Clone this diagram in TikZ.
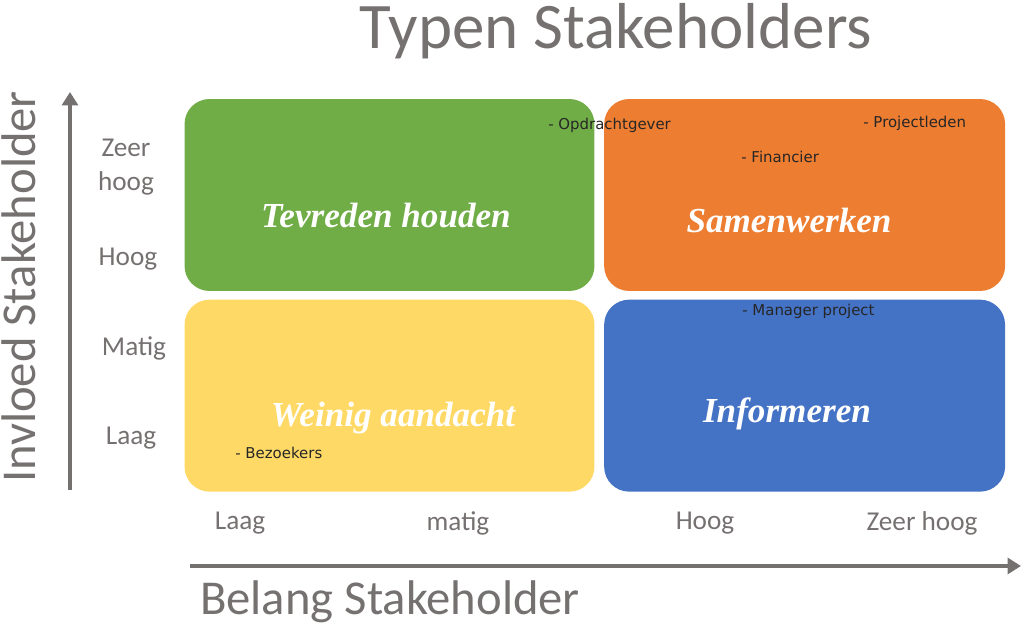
\documentclass[tikz,border=0pt]{standalone}
\usepackage{fontspec}
\setmainfont{Carlito}
\newfontfamily\notefont{DejaVu Sans}
\newfontfamily\quadfont{Liberation Serif}
\usetikzlibrary{arrows.meta,positioning}

\definecolor{axisgray}{HTML}{767171}
\definecolor{qgreen}{HTML}{70AD47}
\definecolor{qorange}{HTML}{ED7D31}
\definecolor{qyellow}{HTML}{FFD966}
\definecolor{qblue}{HTML}{4472C4}

\begin{document}
\begin{tikzpicture}[x=0.02cm, y=-0.02cm,
  quad/.style={rounded corners=0.5cm, minimum width=8.2cm, minimum height=3.84cm, inner sep=0pt},
  quadtitle/.style={text=white, font=\quadfont\bfseries\itshape\fontsize{20}{23}\selectfont},
  member/.style={anchor=west, inner sep=0pt, text=black!85, font=\notefont\fontsize{8.5}{10}\selectfont},
  tick/.style={text=axisgray, align=center, font=\fontsize{15.5}{19.5}\selectfont},
  axistitle/.style={text=axisgray, anchor=base, font=\fontsize{27.7}{32}\selectfont},
  axis/.style={line width=0.08cm, axisgray, -{Triangle[length=0.27cm, width=0.32cm]}}
]
\useasboundingbox (0,0) rectangle (1021,624);

% the four quadrants
\node[quad, fill=qgreen] (keep) at (389.5,195) {};
\node[quad, fill=qorange, minimum width=8.02cm, right=0.18cm of keep] (work) {};
\node[quad, fill=qyellow, below=0.16cm of keep] (low) {};
\node[quad, fill=qblue, minimum width=8.02cm, right=0.18cm of low] (inform) {};

\node[quadtitle] (keeptxt) at (386,216) {Tevreden houden};
\node[quadtitle] (worktxt) at (789,220) {Samenwerken};
\node[quadtitle] (lowtxt) at (393,418) {Weinig aandacht};
\node[quadtitle] (informtxt) at (787,414) {Informeren};

% stakeholders
\node[member] (client) at (548,125) {- Opdrachtgever};
\node[member] (team) at (863,123) {- Projectleden};
\node[member] (funder) at (741,157) {- Financier};
\node[member] (manager) at (742,311) {- Manager project};
\node[member] (visitors) at (235,453) {- Bezoekers};

% axes
\coordinate (ybot) at (70,490);
\coordinate (ytop) at (70,92);
\coordinate (xleft) at (190,566);
\coordinate (xright) at (1021,566);
\draw[axis] (ybot) -- (ytop);
\draw[axis] (xleft) -- (xright);

\node[tick] (y4) at (126,167) {Zeer\\hoog};
\node[tick] (y3) at (128,259) {Hoog};
\node[tick] (y2) at (134,348) {Matig};
\node[tick] (y1) at (131,438) {Laag};

\node[tick] (x1) at (240,523) {Laag};
\node[tick] (x2) at (458,523) {matig};
\node[tick] (x3) at (705,523) {Hoog};
\node[tick] (x4) at (922,523) {Zeer hoog};

\node[axistitle, font=\fontsize{37}{42}\selectfont] (title) at (616,49) {Typen Stakeholders};
\node[axistitle, rotate=90] (ylabel) at (35,287) {Invloed Stakeholder};
\node[axistitle] (xlabel) at (390,614) {Belang Stakeholder};

\end{tikzpicture}
\end{document}
